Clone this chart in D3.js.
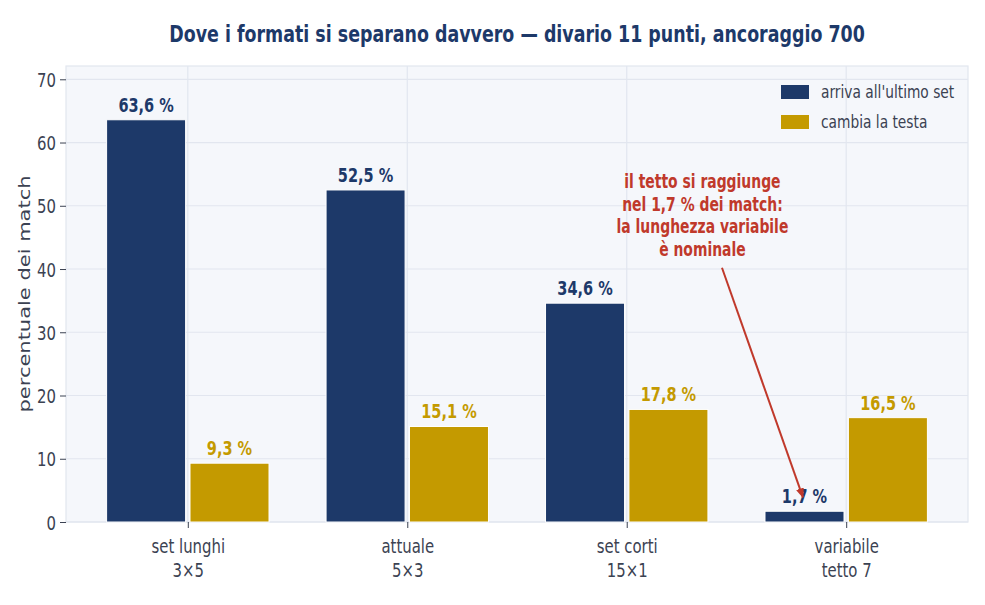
<!DOCTYPE html>
<html>
<head>
<meta charset="utf-8">
<script src="https://cdn.jsdelivr.net/npm/d3@7"></script>
<style>
  html, body { margin: 0; padding: 0; background: #ffffff; }
  svg text { font-family: "DejaVu Sans", sans-serif; }
</style>
</head>
<body>
<svg id="chart" width="985" height="605"></svg>
<script>
// formati confrontati
var categories = [["set lunghi", "3×5"], ["attuale", "5×3"], ["set corti", "15×1"], ["variabile", "tetto 7"]];
var seriesNames = ["arriva all'ultimo set", "cambia la testa"];
var ultimoSet = [63.6, 52.5, 34.6, 1.7];
var cambiaTesta = [9.3, 15.1, 17.8, 16.5];
var yTicks = [0, 10, 20, 30, 40, 50, 60, 70];
var noteLines = ["il tetto si raggiunge", "nel 1,7 % dei match:", "la lunghezza variabile", "è nominale"];

var colors = ["#1d3969", "#c49a00"],
    textColor = "#3b4252",
    gridColor = "#e2e6ef",
    noteColor = "#c0392b",
    squeeze = 0.745;   // testo compresso in orizzontale

var svg = d3.select("#chart"),
    margin = {top: 66, right: 17, bottom: 83, left: 66},
    width = 985 - margin.left - margin.right,
    height = 605 - margin.top - margin.bottom;

var x = d3.scaleLinear().domain([-0.555, categories.length - 1 + 0.555]).range([0, width]);
var y = d3.scaleLinear().domain([0, 72.1]).range([height, 0]);
var barW = x(0.36) - x(0),
    offset = 0.19;

// testo in un gruppo posizionato e compresso
function label(parent, px, py, size, anchor) {
    return parent.append("g")
        .attr("transform", "translate(" + px + "," + py + ") scale(" + squeeze + ",1)")
        .append("text")
        .attr("text-anchor", anchor || "middle")
        .style("font-size", size + "px");
}

var g = svg.append("g").attr("transform", "translate(" + margin.left + "," + margin.top + ")");

// sfondo
g.append("rect")
    .attr("width", width)
    .attr("height", height)
    .attr("fill", "#f5f7fb")
    .attr("stroke", gridColor)
    .attr("stroke-width", 1.2);

// griglia
g.selectAll(".hgrid").data(yTicks).enter().append("line")
    .attr("x1", 0).attr("x2", width)
    .attr("y1", function (d) { return y(d); })
    .attr("y2", function (d) { return y(d); })
    .attr("stroke", gridColor).attr("stroke-width", 1.2);
g.selectAll(".vgrid").data(categories).enter().append("line")
    .attr("x1", function (d, i) { return x(i); })
    .attr("x2", function (d, i) { return x(i); })
    .attr("y1", 0).attr("y2", height)
    .attr("stroke", gridColor).attr("stroke-width", 1.2);

// assi
var yAxis = g.append("g")
    .call(d3.axisLeft(y).tickValues(yTicks).tickSize(6).tickFormat(""));
yAxis.select(".domain").remove();
yAxis.selectAll("line").attr("stroke", textColor);
yAxis.selectAll(".tick").each(function (d) {
    label(d3.select(this), -10, 7, 20, "end").attr("fill", textColor).text(d);
});

var xAxis = g.append("g").attr("transform", "translate(0," + height + ")")
    .call(d3.axisBottom(x).tickValues(d3.range(categories.length)).tickSize(6).tickFormat(""));
xAxis.select(".domain").remove();
xAxis.selectAll("line").attr("stroke", textColor);
xAxis.selectAll(".tick").each(function (d) {
    var t = label(d3.select(this), 0, 0, 20).attr("fill", textColor);
    categories[d].forEach(function (line, k) {
        t.append("tspan").attr("x", 0).attr("y", 31 + k * 24).text(line);
    });
});

// barre
var fmt = function (v) { return d3.format(".1f")(v).replace(".", ",") + " %"; };
[ultimoSet, cambiaTesta].forEach(function (values, s) {
    var dx = s === 0 ? -offset : offset;
    g.selectAll(".bar" + s).data(values).enter().append("rect")
        .attr("x", function (d, i) { return x(i + dx) - barW / 2; })
        .attr("y", function (d) { return y(d); })
        .attr("width", barW)
        .attr("height", function (d) { return y(0) - y(d); })
        .attr("fill", colors[s])
        .attr("stroke", "#ffffff")
        .attr("stroke-width", 1);
    values.forEach(function (v, i) {
        label(g, x(i + dx), y(v) - 8, 19.5)
            .attr("fill", colors[s])
            .style("font-weight", "bold")
            .text(fmt(v));
    });
});

// legenda
var legend = g.append("g").attr("transform", "translate(" + (width - 187) + ",19)");
seriesNames.forEach(function (name, i) {
    legend.append("rect")
        .attr("x", 0).attr("y", i * 30)
        .attr("width", 28).attr("height", 14)
        .attr("fill", colors[i]);
    label(legend, 40, i * 30 + 13, 18.5, "start")
        .attr("fill", textColor)
        .text(name);
});

// annotazione
var noteX = x(2.345), noteY = y(52.8);
var note = label(g, noteX, noteY, 18.7)
    .attr("fill", noteColor)
    .style("font-weight", "bold");
noteLines.forEach(function (line, k) {
    note.append("tspan").attr("x", 0).attr("y", k * 22.6).text(line);
});

svg.append("defs").append("marker")
    .attr("id", "head")
    .attr("viewBox", "0 0 10 10")
    .attr("refX", 9).attr("refY", 5)
    .attr("markerWidth", 5).attr("markerHeight", 5)
    .attr("orient", "auto")
    .append("path")
    .attr("d", "M0,1 L10,5 L0,9 z")
    .attr("fill", noteColor);
g.append("line")
    .attr("x1", x(2.434)).attr("y1", y(40.2))
    .attr("x2", x(2.803)).attr("y2", y(3.9))
    .attr("stroke", noteColor)
    .attr("stroke-width", 2)
    .attr("marker-end", "url(#head)");

// titolo e asse y
label(svg, margin.left + width / 2, 42, 23.4)
    .attr("fill", "#1d3969")
    .style("font-weight", "bold")
    .text("Dove i formati si separano davvero — divario 11 punti, ancoraggio 700");

svg.append("g")
    .attr("transform", "translate(30," + (margin.top + height / 2) + ") scale(" + squeeze + ",1) rotate(-90)")
    .append("text")
    .attr("text-anchor", "middle")
    .attr("fill", textColor)
    .style("font-size", "21px")
    .text("percentuale dei match");
</script>
</body>
</html>
